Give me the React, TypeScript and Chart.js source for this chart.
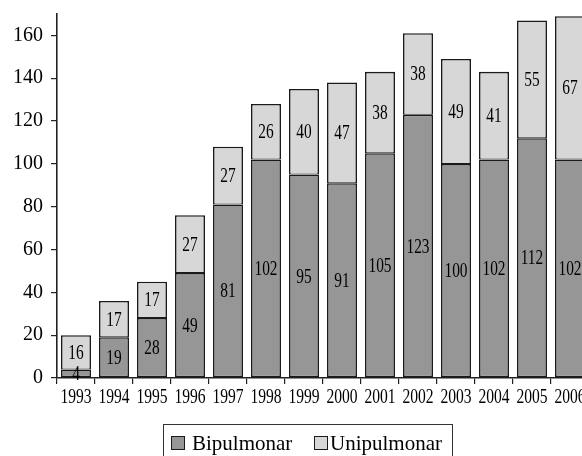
import React, { useEffect, useRef } from 'react';
import { Chart, registerables } from 'chart.js';

Chart.register(...registerables);

const years = ['1993', '1994', '1995', '1996', '1997', '1998', '1999', '2000', '2001', '2002', '2003', '2004', '2005', '2006'];
const bipulmonar = [4, 19, 28, 49, 81, 102, 95, 91, 105, 123, 100, 102, 112, 102];
const unipulmonar = [16, 17, 17, 27, 27, 26, 40, 47, 38, 38, 49, 41, 55, 67];
const yTicks = [0, 20, 40, 60, 80, 100, 120, 140, 160];
const seriesNames = ['Bipulmonar', 'Unipulmonar'];

const FONT = '"Liberation Serif", "Times New Roman", serif';
const DARK = '#969696';
const LIGHT = '#d7d7d7';
const EDGE = '#1a1a1a';
const TEXT = '#000000';

const W = 620;
const H = 470;

const labelsPlugin = {
  id: 'customLabels',
  afterDatasetsDraw(chart: any) {
    const ctx = chart.ctx;
    ctx.save();
    ctx.font = `20px ${FONT}`;
    ctx.fillStyle = TEXT;
    ctx.textAlign = 'center';
    ctx.textBaseline = 'middle';
    chart.data.datasets.forEach((ds: any, i: number) => {
      const meta = chart.getDatasetMeta(i);
      meta.data.forEach((bar: any, j: number) => {
        const v = ds.data[j];
        const cy = (bar.y + bar.base) / 2 + 1;
        ctx.save();
        ctx.translate(bar.x, cy);
        ctx.scale(0.77, 1.05);
        ctx.fillText(String(v), 0, 0);
        ctx.restore();
      });
    });
    ctx.restore();
  },
  afterDraw(chart: any) {
    const ctx = chart.ctx;
    const xs = chart.scales.x;
    ctx.save();
    // x tick labels
    ctx.font = `20px ${FONT}`;
    ctx.fillStyle = TEXT;
    ctx.textAlign = 'center';
    ctx.textBaseline = 'alphabetic';
    years.forEach((y, i) => {
      const x = xs.getPixelForValue(i);
      ctx.save();
      ctx.translate(x, 403);
      ctx.scale(0.78, 1.03);
      ctx.fillText(y, 0, 0);
      ctx.restore();
    });
    // legend
    ctx.strokeStyle = '#333333';
    ctx.lineWidth = 1;
    ctx.strokeRect(163.5, 424.5, 289, 50);
    const items = [
      { sx: 171.5, tx: 192, color: DARK, name: seriesNames[0] },
      { sx: 314.5, tx: 330, color: LIGHT, name: seriesNames[1] },
    ];
    ctx.font = `21px ${FONT}`;
    ctx.textAlign = 'left';
    items.forEach((it) => {
      ctx.fillStyle = it.color;
      ctx.fillRect(it.sx, 436.5, 13, 13);
      ctx.strokeStyle = EDGE;
      ctx.strokeRect(it.sx, 436.5, 13, 13);
      ctx.fillStyle = TEXT;
      ctx.fillText(it.name, it.tx, 450);
    });
    ctx.restore();
  },
};

export default function App() {
  const ref = useRef<HTMLCanvasElement | null>(null);

  useEffect(() => {
    if (!ref.current) return;
    const chart = new Chart(ref.current, {
      type: 'bar',
      data: {
        labels: years,
        datasets: [
          {
            label: seriesNames[0],
            data: bipulmonar,
            backgroundColor: DARK,
            borderColor: EDGE,
            borderWidth: { top: 1.5, left: 1.6, right: 1.6, bottom: 1.6 },
            borderSkipped: false,
            barPercentage: 1,
            categoryPercentage: 0.79,
          },
          {
            label: seriesNames[1],
            data: unipulmonar,
            backgroundColor: LIGHT,
            borderColor: EDGE,
            borderWidth: { top: 1.6, left: 1.6, right: 1.6, bottom: 1 },
            borderSkipped: false,
            barPercentage: 1,
            categoryPercentage: 0.79,
          },
        ],
      },
      options: {
        responsive: false,
        animation: false,
        devicePixelRatio: 1,
        layout: { padding: { left: 0, top: 14, right: W - 589, bottom: 0 } },
        plugins: {
          legend: { display: false },
          tooltip: { enabled: false },
        },
        scales: {
          x: {
            stacked: true,
            offset: true,
            grid: { display: true, drawOnChartArea: false, drawTicks: true, tickLength: 6, color: '#222', lineWidth: 1.2 },
            border: { display: true, color: '#222', width: 1.6 },
            ticks: { display: false },
            afterFit: (s: any) => { s.height = H - 378; s.paddingLeft = 0; s.paddingRight = 0; },
          },
          y: {
            stacked: true,
            min: 0,
            max: 170,
            grid: { display: true, drawOnChartArea: false, drawTicks: true, tickLength: 6, color: '#222', lineWidth: 1.2 },
            border: { display: true, color: '#222', width: 1.6 },
            ticks: { font: { family: FONT, size: 20 }, color: TEXT, padding: 8 },
            afterBuildTicks: (s: any) => { s.ticks = yTicks.map((v) => ({ value: v })); },
            afterFit: (s: any) => { s.width = 57; s.paddingTop = 0; s.paddingBottom = 0; },
          },
        },
      },
      plugins: [labelsPlugin],
    } as any);
    return () => chart.destroy();
  }, []);

  return (
    <div style={{ position: 'fixed', left: 0, top: 0, width: 582, height: 456, overflow: 'hidden', background: '#fff' }}>
      <canvas ref={ref} width={W} height={H} style={{ display: 'block', width: W, height: H }} />
    </div>
  );
}
